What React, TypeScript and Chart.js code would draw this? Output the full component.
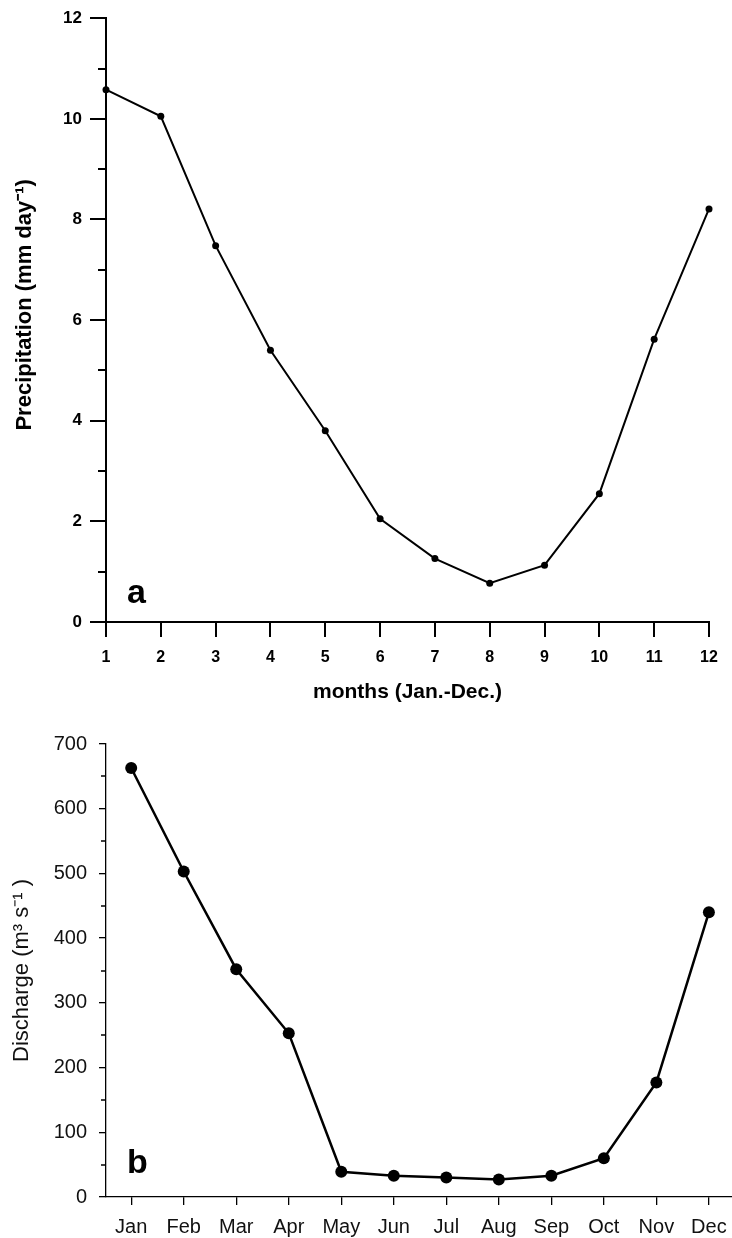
import React, { useEffect, useRef } from "react";
import { Chart, registerables } from "chart.js";

Chart.register(...registerables);

// ---- data ----
const monthNumbers = [1, 2, 3, 4, 5, 6, 7, 8, 9, 10, 11, 12];
const precipitation = [10.58, 10.05, 7.48, 5.4, 3.8, 2.05, 1.26, 0.77, 1.13, 2.55, 5.62, 8.21];
const precipMinorTicks = [1, 3, 5, 7, 9, 11];

const monthNames = ["Jan", "Feb", "Mar", "Apr", "May", "Jun", "Jul", "Aug", "Sep", "Oct", "Nov", "Dec"];
const discharge = [663, 503, 352, 253, 39, 33, 30, 27, 33, 60, 177, 440];
const dischargeMinorTicks = [50, 150, 250, 350, 450, 550, 650];

const FONT = "'Liberation Sans', Arial, Helvetica, sans-serif";

function minorTicksPlugin(id: string, values: number[], len: number, width: number) {
  return {
    id,
    afterDraw(chart: any) {
      const s = chart.scales.y;
      const ctx = chart.ctx;
      ctx.save();
      ctx.strokeStyle = "#000";
      ctx.lineWidth = width;
      ctx.beginPath();
      values.forEach((v) => {
        const y = Math.round(s.getPixelForValue(v));
        ctx.moveTo(s.right - len, y);
        ctx.lineTo(s.right, y);
      });
      ctx.stroke();
      ctx.restore();
    },
  };
}

function panelLabelPlugin(id: string, text: string, dx: number, dy: number) {
  return {
    id,
    afterDraw(chart: any) {
      const { left, bottom } = chart.chartArea;
      const ctx = chart.ctx;
      ctx.save();
      ctx.fillStyle = "#000";
      ctx.font = `bold 34px ${FONT}`;
      ctx.textAlign = "left";
      ctx.textBaseline = "alphabetic";
      ctx.fillText(text, left + dx, bottom - dy);
      ctx.restore();
    },
  };
}

function PanelA() {
  const ref = useRef<HTMLCanvasElement | null>(null);
  useEffect(() => {
    if (!ref.current) return;
    const chart = new Chart(ref.current, {
      type: "line",
      data: {
        datasets: [
          {
            data: monthNumbers.map((m, i) => ({ x: m, y: precipitation[i] })),
            borderColor: "#000",
            borderWidth: 2,
            pointRadius: 3.5,
            pointBackgroundColor: "#000",
            pointBorderColor: "#000",
            pointBorderWidth: 0,
            tension: 0,
            clip: false,
          } as any,
        ],
      },
      options: {
        responsive: false,
        animation: false,
        devicePixelRatio: 1,
        layout: { autoPadding: false, padding: { left: 0, top: 16, right: 23, bottom: 0 } },
        plugins: { legend: { display: false }, tooltip: { enabled: false } },
        scales: {
          x: {
            type: "linear",
            min: 1,
            max: 12,
            afterBuildTicks: (s: any) => {
              s.ticks = monthNumbers.map((v) => ({ value: v }));
            },
            afterFit: (s: any) => {
              s.height = 90;
              s.paddingLeft = 0;
              s.paddingRight = 0;
            },
            grid: { drawOnChartArea: false, drawTicks: true, tickLength: 15, color: "#000", lineWidth: 2 },
            border: { display: true, color: "#000", width: 2 },
            ticks: {
              color: "#000",
              font: { family: FONT, size: 16, weight: "bold" },
              padding: 11,
              maxRotation: 0,
              autoSkip: false,
            },
            title: {
              display: true,
              text: "months (Jan.-Dec.)",
              color: "#000",
              font: { family: FONT, size: 21, weight: "bold" },
              padding: { top: 0, bottom: 7 },
            },
          },
          y: {
            type: "linear",
            min: 0,
            max: 12,
            afterFit: (s: any) => {
              s.width = 106;
            },
            grid: { drawOnChartArea: false, drawTicks: true, tickLength: 16, color: "#000", lineWidth: 2 },
            border: { display: true, color: "#000", width: 2 },
            ticks: {
              stepSize: 2,
              color: "#000",
              font: { family: FONT, size: 17, weight: "bold" },
              padding: 8,
            },
            title: {
              display: true,
              text: "\u00A0\u00A0\u00A0\u00A0\u00A0Precipitation (mm day\u207B\u00B9)",
              color: "#000",
              font: { family: FONT, size: 22, weight: "bold" },
              padding: { top: 12, bottom: 0 },
            },
          },
        },
      } as any,
      plugins: [minorTicksPlugin("minorA", precipMinorTicks, 8, 2), panelLabelPlugin("labelA", "a", 21, 19)],
    });
    return () => chart.destroy();
  }, []);
  return (
    <canvas
      ref={ref}
      width={732}
      height={712}
      style={{ display: "block", position: "absolute", left: 0, top: 0 }}
    />
  );
}

function PanelB() {
  const ref = useRef<HTMLCanvasElement | null>(null);
  useEffect(() => {
    if (!ref.current) return;
    const chart = new Chart(ref.current, {
      type: "line",
      data: {
        datasets: [
          {
            data: monthNames.map((_, i) => ({ x: i + 1, y: discharge[i] })),
            borderColor: "#000",
            borderWidth: 2.5,
            pointRadius: 6,
            pointBackgroundColor: "#000",
            pointBorderColor: "#000",
            pointBorderWidth: 0,
            tension: 0,
            clip: false,
          } as any,
        ],
      },
      options: {
        responsive: false,
        animation: false,
        devicePixelRatio: 1,
        layout: { autoPadding: false, padding: { left: 0, top: 32, right: 0, bottom: 0 } },
        plugins: { legend: { display: false }, tooltip: { enabled: false } },
        scales: {
          x: {
            type: "linear",
            min: 0.52,
            max: 12.44,
            afterBuildTicks: (s: any) => {
              s.ticks = monthNames.map((_, i) => ({ value: i + 1 }));
            },
            afterFit: (s: any) => {
              s.height = 41;
              s.paddingLeft = 0;
              s.paddingRight = 0;
            },
            grid: { drawOnChartArea: false, drawTicks: true, tickLength: 8, color: "#000", lineWidth: 1.3 },
            border: { display: true, color: "#000", width: 1.3 },
            ticks: {
              color: "#111",
              font: { family: FONT, size: 20 },
              padding: 10,
              maxRotation: 0,
              autoSkip: false,
              callback: (v: any) => monthNames[Math.round(v) - 1] ?? "",
            },
          },
          y: {
            type: "linear",
            min: 0,
            max: 700,
            afterFit: (s: any) => {
              s.width = 106;
            },
            grid: { drawOnChartArea: false, drawTicks: true, tickLength: 7, color: "#000", lineWidth: 1.3 },
            border: { display: true, color: "#000", width: 1.3 },
            ticks: {
              stepSize: 100,
              color: "#111",
              font: { family: FONT, size: 20 },
              padding: 12,
            },
            title: {
              display: true,
              text: "Discharge (m\u00B3 s\u207B\u00B9 )",
              color: "#111",
              font: { family: FONT, size: 22 },
              padding: { top: 9, bottom: 0 },
            },
          },
        },
      } as any,
      plugins: [minorTicksPlugin("minorB", dischargeMinorTicks, 5, 1.3), panelLabelPlugin("labelB", "b", 21, 24)],
    });
    return () => chart.destroy();
  }, []);
  return (
    <canvas
      ref={ref}
      width={732}
      height={526}
      style={{ display: "block", position: "absolute", left: 0, top: 712 }}
    />
  );
}

export default function App() {
  return (
    <div style={{ position: "absolute", left: 0, top: 0, width: 732, height: 1238, background: "#fff" }}>
      <PanelA />
      <PanelB />
    </div>
  );
}
